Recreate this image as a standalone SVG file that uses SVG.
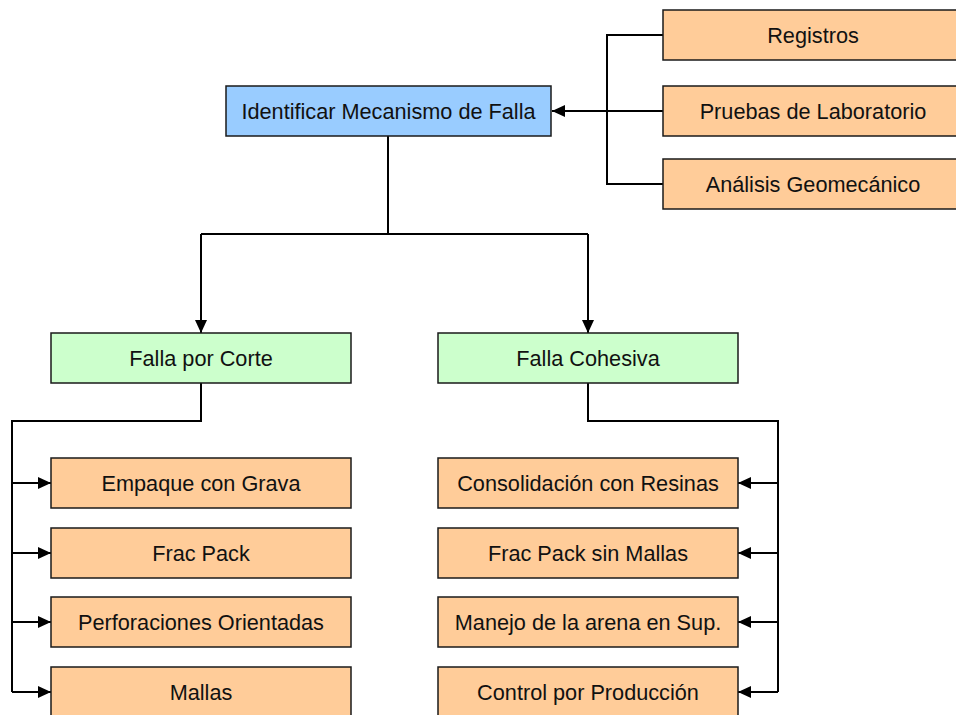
<svg xmlns="http://www.w3.org/2000/svg" width="956" height="715" viewBox="0 0 956 715">
<style>
.box{stroke:#1a1a1a;stroke-width:1.5}
.blue{fill:#99CCFF}
.green{fill:#CCFFCC}
.orange{fill:#FFCC99}
text{font-family:"Liberation Sans",Arial,sans-serif;font-size:21.7px;fill:#111;text-anchor:middle}
.c{fill:none;stroke:#000;stroke-width:2}
</style>
<defs>
<marker id="ah" markerUnits="userSpaceOnUse" markerWidth="14" markerHeight="14" refX="13" refY="6" orient="auto">
<path d="M0,0 L13,6 L0,12 Z" fill="#000"/>
</marker>
</defs>
<rect width="956" height="715" fill="#fff"/>
<g id="connectors">
<path class="c" d="M663,35 H607 V184 H663"/>
<path class="c" d="M663,111 H552" marker-end="url(#ah)"/>
<path class="c" d="M388,136 V234"/>
<path class="c" d="M201,234 H588"/>
<path class="c" d="M201,234 V333" marker-end="url(#ah)"/>
<path class="c" d="M588,234 V333" marker-end="url(#ah)"/>
<path class="c" d="M201,383 V421 H12 V692"/>
<path class="c" d="M12,483 H51" marker-end="url(#ah)"/>
<path class="c" d="M12,553 H51" marker-end="url(#ah)"/>
<path class="c" d="M12,622 H51" marker-end="url(#ah)"/>
<path class="c" d="M12,692 H51" marker-end="url(#ah)"/>
<path class="c" d="M588,383 V421 H778 V692"/>
<path class="c" d="M778,483 H738" marker-end="url(#ah)"/>
<path class="c" d="M778,553 H738" marker-end="url(#ah)"/>
<path class="c" d="M778,622 H738" marker-end="url(#ah)"/>
<path class="c" d="M778,692 H738" marker-end="url(#ah)"/>
</g>
<g id="n-main"><rect class="box blue" x="226" y="86" width="325" height="50"/><text x="388.5" y="119">Identificar Mecanismo de Falla</text></g>
<g id="n-registros"><rect class="box orange" x="663" y="10" width="300" height="50"/><text x="813" y="43">Registros</text></g>
<g id="n-pruebas"><rect class="box orange" x="663" y="86" width="300" height="50"/><text x="813" y="119">Pruebas de Laboratorio</text></g>
<g id="n-analisis"><rect class="box orange" x="663" y="159" width="300" height="50"/><text x="813" y="192">Análisis Geomecánico</text></g>
<g id="n-corte"><rect class="box green" x="51" y="333" width="300" height="50"/><text x="201" y="366">Falla por Corte</text></g>
<g id="n-cohesiva"><rect class="box green" x="438" y="333" width="300" height="50"/><text x="588" y="366">Falla Cohesiva</text></g>
<g id="n-empaque"><rect class="box orange" x="51" y="458" width="300" height="50"/><text x="201" y="491">Empaque con Grava</text></g>
<g id="n-fracpack"><rect class="box orange" x="51" y="528" width="300" height="50"/><text x="201" y="561">Frac Pack</text></g>
<g id="n-perforaciones"><rect class="box orange" x="51" y="597" width="300" height="50"/><text x="201" y="630">Perforaciones Orientadas</text></g>
<g id="n-mallas"><rect class="box orange" x="51" y="667" width="300" height="50"/><text x="201" y="700">Mallas</text></g>
<g id="n-consolidacion"><rect class="box orange" x="438" y="458" width="300" height="50"/><text x="588" y="491">Consolidación con Resinas</text></g>
<g id="n-fracsin"><rect class="box orange" x="438" y="528" width="300" height="50"/><text x="588" y="561">Frac Pack sin Mallas</text></g>
<g id="n-manejo"><rect class="box orange" x="438" y="597" width="300" height="50"/><text x="588" y="630">Manejo de la arena en Sup.</text></g>
<g id="n-control"><rect class="box orange" x="438" y="667" width="300" height="50"/><text x="588" y="700">Control por Producción</text></g>
</svg>
